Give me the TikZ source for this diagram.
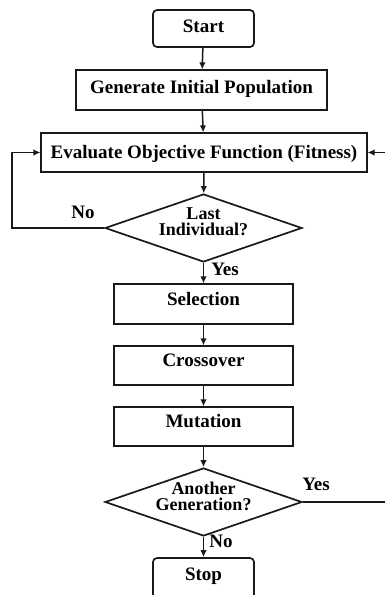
\documentclass[tikz,border=0pt]{standalone}
\usepackage{fontspec}
\setmainfont{Liberation Serif}
\usetikzlibrary{shapes.geometric,arrows.meta}
\definecolor{myblack}{rgb}{0.100,0.100,0.100}
\definecolor{mywhite}{rgb}{1.000,1.000,1.000}
\tikzstyle{none}=[inner sep=0pt]
\tikzstyle{txt}=[inner sep=0pt,font=\fontsize{19}{15}\selectfont\bfseries]
\tikzstyle{box}=[rectangle,draw=myblack,fill=mywhite,line width=1.2pt,inner sep=0pt,
  minimum width=179pt,text height=20pt,text depth=19pt,font=\fontsize{19}{15}\selectfont\bfseries]
\tikzstyle{term}=[box,rounded corners=4pt,line width=1.7pt,minimum width=101pt]
\tikzstyle{test}=[diamond,aspect=2.9,draw=myblack,fill=mywhite,line width=1.7pt,
  inner xsep=0pt,inner ysep=-3pt,text depth=12pt,minimum width=197pt,minimum height=68pt,
  align=center,font=\fontsize{18}{16}\selectfont\bfseries]
\tikzstyle{flow}=[line width=1.5pt,draw=myblack,-{Latex[length=7pt,width=6.5pt]}]
\tikzstyle{back}=[line width=1.2pt,draw=myblack,-{Latex[length=7pt,width=6.5pt]}]

\begin{document}
\begin{tikzpicture}[x=1pt,y=-1pt]
\useasboundingbox (0,0) rectangle (385,595);
		\node [style=term,text height=22pt,text depth=15pt] (0) at (203.5, 28.5) {Start};
		\node [style=box,minimum width=251pt,text height=23pt,text depth=17pt] (1) at (201.5, 90) {Generate Initial Population};
		\node [style=box,minimum width=326pt,text height=25pt,text depth=14pt] (2) at (204, 152.5) {Evaluate Objective Function (Fitness)};
		\node [style=test] (3) at (203.5, 228) {Last\\Individual?};
		\node [style=box,text height=21pt] (4) at (203.5, 304) {Selection};
		\node [style=box] (5) at (203.5, 365.5) {Crossover};
		\node [style=box] (6) at (203.5, 426.5) {Mutation};
		\node [style=test] (7) at (203.5, 502) {Another\\Generation?};
		\node [style=term,text height=22pt,text depth=20pt] (8) at (203.5, 579) {Stop};
		\node [style=txt] (9) at (83, 212) {No};
		\node [style=txt] (10) at (225, 269) {Yes};
		\node [style=txt] (11) at (316, 484) {Yes};
		\node [style=txt] (12) at (221, 541) {No};
		\coordinate (c1) at (12, 228);
		\coordinate (c2) at (12, 152.5);
		\coordinate (c3) at (392, 502);
		\coordinate (c4) at (392, 152.5);
		\draw [style=flow] (0) to (1);
		\draw [style=flow] (1) to (2);
		\draw [style=flow] (2) to (3);
		\draw [style=flow] (3) to (4);
		\draw [style=flow] (4) to (5);
		\draw [style=flow] (5) to (6);
		\draw [style=flow] (6) to (7);
		\draw [style=flow] (7) to (8);
		\draw [style=back] (3.west) -- (c1) -- (c2) -- (2.west);
		\draw [style=back] (7.east) -- (c3) -- (c4) -- (2.east);
\end{tikzpicture}
\end{document}
